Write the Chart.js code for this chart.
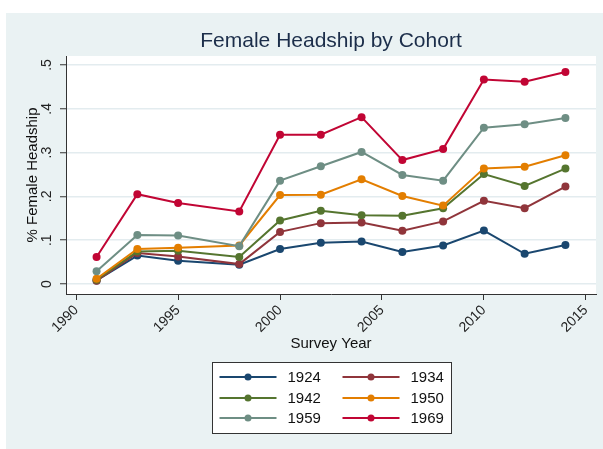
<!DOCTYPE html>
<html>
<head>
<meta charset="utf-8">
<script src="https://cdn.jsdelivr.net/npm/chart.js@4.4.1/dist/chart.umd.min.js"></script>
<style>
  html, body { margin: 0; padding: 0; background: #ffffff; }
  canvas { display: block; }
</style>
</head>
<body>
<canvas id="c" width="603" height="449"></canvas>
<script>
// ---- data ----
const years = [1991, 1993, 1995, 1998, 2000, 2002, 2004, 2006, 2008, 2010, 2012, 2014];
const cohorts = ['1924', '1934', '1942', '1950', '1959', '1969'];
const c1924 = [0.008, 0.065, 0.053, 0.044, 0.080, 0.094, 0.097, 0.073, 0.088, 0.122, 0.069, 0.089];
const c1934 = [0.0075, 0.071, 0.063, 0.0455, 0.119, 0.139, 0.1405, 0.1215, 0.143, 0.190, 0.173, 0.2225];
const c1942 = [0.010, 0.074, 0.076, 0.0615, 0.145, 0.167, 0.157, 0.156, 0.173, 0.251, 0.224, 0.2635];
const c1950 = [0.012, 0.080, 0.083, 0.088, 0.203, 0.204, 0.239, 0.201, 0.179, 0.264, 0.268, 0.294];
const c1959 = [0.029, 0.112, 0.111, 0.0865, 0.236, 0.269, 0.3015, 0.249, 0.236, 0.357, 0.365, 0.379];
const c1969 = [0.0615, 0.205, 0.185, 0.1655, 0.341, 0.341, 0.381, 0.283, 0.308, 0.467, 0.462, 0.484];
const xTicks = [1990, 1995, 2000, 2005, 2010, 2015];
const yTicks = [0, 0.1, 0.2, 0.3, 0.4, 0.5];
const yTickLabels = ['0', '.1', '.2', '.3', '.4', '.5'];
const titleText = 'Female Headship by Cohort';
const xTitle = 'Survey Year';
const yTitle = '% Female Headship';

const seriesValues = [c1924, c1934, c1942, c1950, c1959, c1969];
const colors = ['#1a476f', '#90353b', '#55752f', '#e37e00', '#6e8e84', '#c10534'];

const FONT = "'Liberation Sans', Arial, sans-serif";
Chart.defaults.font.family = FONT;
Chart.defaults.color = '#222';

const datasets = cohorts.map((name, i) => ({
  label: name,
  data: years.map((yr, j) => ({ x: yr, y: seriesValues[i][j] })),
  borderColor: colors[i],
  backgroundColor: colors[i],
  pointBackgroundColor: colors[i],
  pointBorderColor: colors[i],
  pointRadius: 4,
  pointBorderWidth: 0,
  borderWidth: 2,
  tension: 0,
  order: cohorts.length - 1 - i
}));

const bgPlugin = {
  id: 'bg',
  beforeDraw(chart) {
    const { ctx, chartArea: a } = chart;
    ctx.save();
    ctx.fillStyle = '#eaf2f3';
    ctx.fillRect(6, 13, chart.width - 6, chart.height - 13);
    ctx.fillStyle = '#ffffff';
    ctx.fillRect(a.left, a.top, a.right - a.left, a.bottom - a.top);
    ctx.restore();
  }
};

const titlePlugin = {
  id: 'ctitle',
  afterDraw(chart) {
    const { ctx, chartArea: a } = chart;
    ctx.save();
    ctx.font = '21px ' + FONT;
    ctx.fillStyle = '#1c2e4a';
    ctx.textAlign = 'center';
    ctx.textBaseline = 'middle';
    ctx.fillText(titleText, (a.left + a.right) / 2, 41);
    ctx.restore();
  }
};

const legendPlugin = {
  id: 'clegend',
  afterDraw(chart) {
    const { ctx, chartArea: a } = chart;
    const cx = (a.left + a.right) / 2;
    const boxW = 239, boxH = 71;
    const bx = Math.round(cx - boxW / 2) + 0.5, by = 362.5;
    ctx.save();
    ctx.fillStyle = '#ffffff';
    ctx.fillRect(bx, by, boxW, boxH);
    ctx.strokeStyle = '#333';
    ctx.lineWidth = 1;
    ctx.strokeRect(bx, by, boxW, boxH);
    const rowY = [377, 398, 418];
    const colX = [bx + 7, bx + 130];
    ctx.font = '15px ' + FONT;
    ctx.textBaseline = 'middle';
    ctx.textAlign = 'left';
    chart.data.datasets.forEach((ds, i) => {
      const col = i % 2, row = Math.floor(i / 2);
      const x0 = colX[col], y0 = rowY[row];
      ctx.strokeStyle = ds.borderColor;
      ctx.lineWidth = 2;
      ctx.beginPath();
      ctx.moveTo(x0, y0);
      ctx.lineTo(x0 + 57, y0);
      ctx.stroke();
      ctx.fillStyle = ds.borderColor;
      ctx.beginPath();
      ctx.arc(x0 + 28.5, y0, 3.5, 0, Math.PI * 2);
      ctx.fill();
      ctx.fillStyle = '#111';
      ctx.fillText(ds.label, x0 + 68, y0 + 1);
    });
    ctx.restore();
  }
};

new Chart(document.getElementById('c'), {
  type: 'line',
  data: { datasets },
  options: {
    responsive: false,
    devicePixelRatio: 1,
    animation: false,
    layout: { padding: { left: 6, right: 7, top: 56, bottom: 96 } },
    plugins: {
      legend: { display: false },
      title: { display: false },
      tooltip: { enabled: false }
    },
    scales: {
      x: {
        type: 'linear',
        min: 1989.5,
        max: 2015.5,
        afterBuildTicks(scale) { scale.ticks = xTicks.map(v => ({ value: v })); },
        afterFit(scale) { scale.height = 59; },
        ticks: {
          autoSkip: false,
          minRotation: 45,
          maxRotation: 45,
          padding: 2,
          font: { size: 14 },
          color: '#222',
          callback: (v) => String(v)
        },
        grid: {
          drawOnChartArea: false,
          drawTicks: true,
          tickLength: 6,
          tickColor: '#333'
        },
        border: { display: true, color: '#333', width: 1 },
        title: {
          display: true,
          text: xTitle,
          font: { size: 15 },
          color: '#111',
          padding: { top: 0, bottom: 0 }
        }
      },
      y: {
        type: 'linear',
        min: -0.0228,
        max: 0.5206,
        afterBuildTicks(scale) { scale.ticks = yTicks.map(v => ({ value: v })); },
        afterFit(scale) { scale.width = 60; },
        ticks: {
          minRotation: 90,
          maxRotation: 90,
          crossAlign: 'center',
          padding: 7,
          font: { size: 14 },
          color: '#222',
          callback: (v) => {
            const k = yTicks.findIndex(t => Math.abs(t - v) < 1e-9);
            return k >= 0 ? yTickLabels[k] : '';
          }
        },
        grid: {
          drawOnChartArea: true,
          drawTicks: true,
          tickLength: 6,
          color: '#e3ecef',
          lineWidth: 1.5,
          tickColor: '#333',
          tickWidth: 1
        },
        border: { display: true, color: '#333', width: 1 },
        title: {
          display: true,
          text: yTitle,
          font: { size: 15 },
          color: '#111',
          padding: { top: 18, bottom: 0 }
        }
      }
    }
  },
  plugins: [bgPlugin, titlePlugin, legendPlugin]
});
</script>
</body>
</html>
